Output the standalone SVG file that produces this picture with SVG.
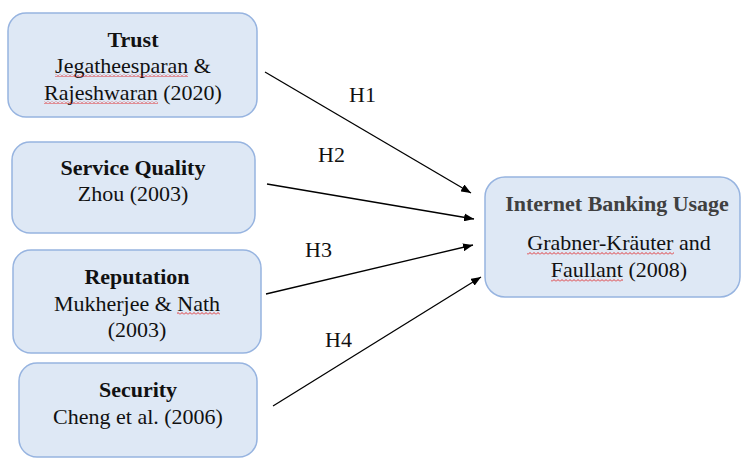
<svg xmlns="http://www.w3.org/2000/svg" width="742" height="458" viewBox="0 0 742 458">
<style>
.box{fill:#dee8f5;stroke:#97b4e0;stroke-width:1.5}
text{font-family:"Liberation Serif","Times New Roman",serif;font-size:22px;fill:#111;text-anchor:middle}
.b{font-weight:bold}
.g{fill:#404040}
.lab{text-anchor:start}
.conn line{stroke:#000;stroke-width:1.3;marker-end:url(#ah)}
.sq{fill:url(#wave)}
</style>
<defs>
<marker id="ah" viewBox="0 0 10 8" refX="10" refY="4" markerWidth="10" markerHeight="8" markerUnits="userSpaceOnUse" orient="auto">
<path d="M0,0 L10,4 L0,8 Z" fill="#000"/>
</marker>
<pattern id="wave" patternUnits="userSpaceOnUse" width="4" height="3">
<path d="M0,2.5 L2,0.5 L4,2.5" fill="none" stroke="#e02020" stroke-width="0.9"/>
</pattern>
</defs>
<rect width="742" height="458" fill="#fff"/>
<g id="trust">
<rect class="box" x="8" y="13" width="249" height="104" rx="18"/>
<text class="b" x="133" y="47">Trust</text>
<text x="133" y="73">Jegatheesparan &amp;</text>
<text x="133" y="100">Rajeshwaran (2020)</text>
<rect class="sq" x="55" y="74" width="133" height="3"/>
<rect class="sq" x="44" y="101" width="114" height="3"/>
</g>
<g id="service-quality">
<rect class="box" x="12" y="142" width="243" height="91" rx="18"/>
<text class="b" x="133" y="175">Service Quality</text>
<text x="133" y="201">Zhou (2003)</text>
</g>
<g id="reputation">
<rect class="box" x="13" y="250" width="248" height="103" rx="18"/>
<text class="b" x="137" y="284">Reputation</text>
<text x="137" y="311">Mukherjee &amp; Nath</text>
<text x="137" y="337">(2003)</text>
<rect class="sq" x="177" y="312" width="43" height="3"/>
</g>
<g id="security">
<rect class="box" x="19" y="363" width="238" height="94" rx="18"/>
<text class="b" x="138" y="397">Security</text>
<text x="138" y="424">Cheng et al. (2006)</text>
</g>
<g id="internet-banking-usage">
<rect class="box" x="485" y="177" width="255" height="120" rx="20"/>
<text class="b g" x="617" y="211">Internet Banking Usage</text>
<text x="619" y="250">Grabner-Kräuter and</text>
<text x="619" y="277">Faullant (2008)</text>
<rect class="sq" x="527" y="252" width="147" height="3"/>
<rect class="sq" x="551" y="279" width="72" height="3"/>
</g>
<g id="connectors" class="conn">
<line x1="265" y1="72" x2="471" y2="193"/>
<line x1="267" y1="184" x2="474" y2="219"/>
<line x1="266" y1="294" x2="473" y2="245"/>
<line x1="273" y1="406" x2="481" y2="277"/>
<text class="lab" x="349" y="102">H1</text>
<text class="lab" x="318" y="162">H2</text>
<text class="lab" x="305" y="257">H3</text>
<text class="lab" x="325" y="347">H4</text>
</g>
</svg>
